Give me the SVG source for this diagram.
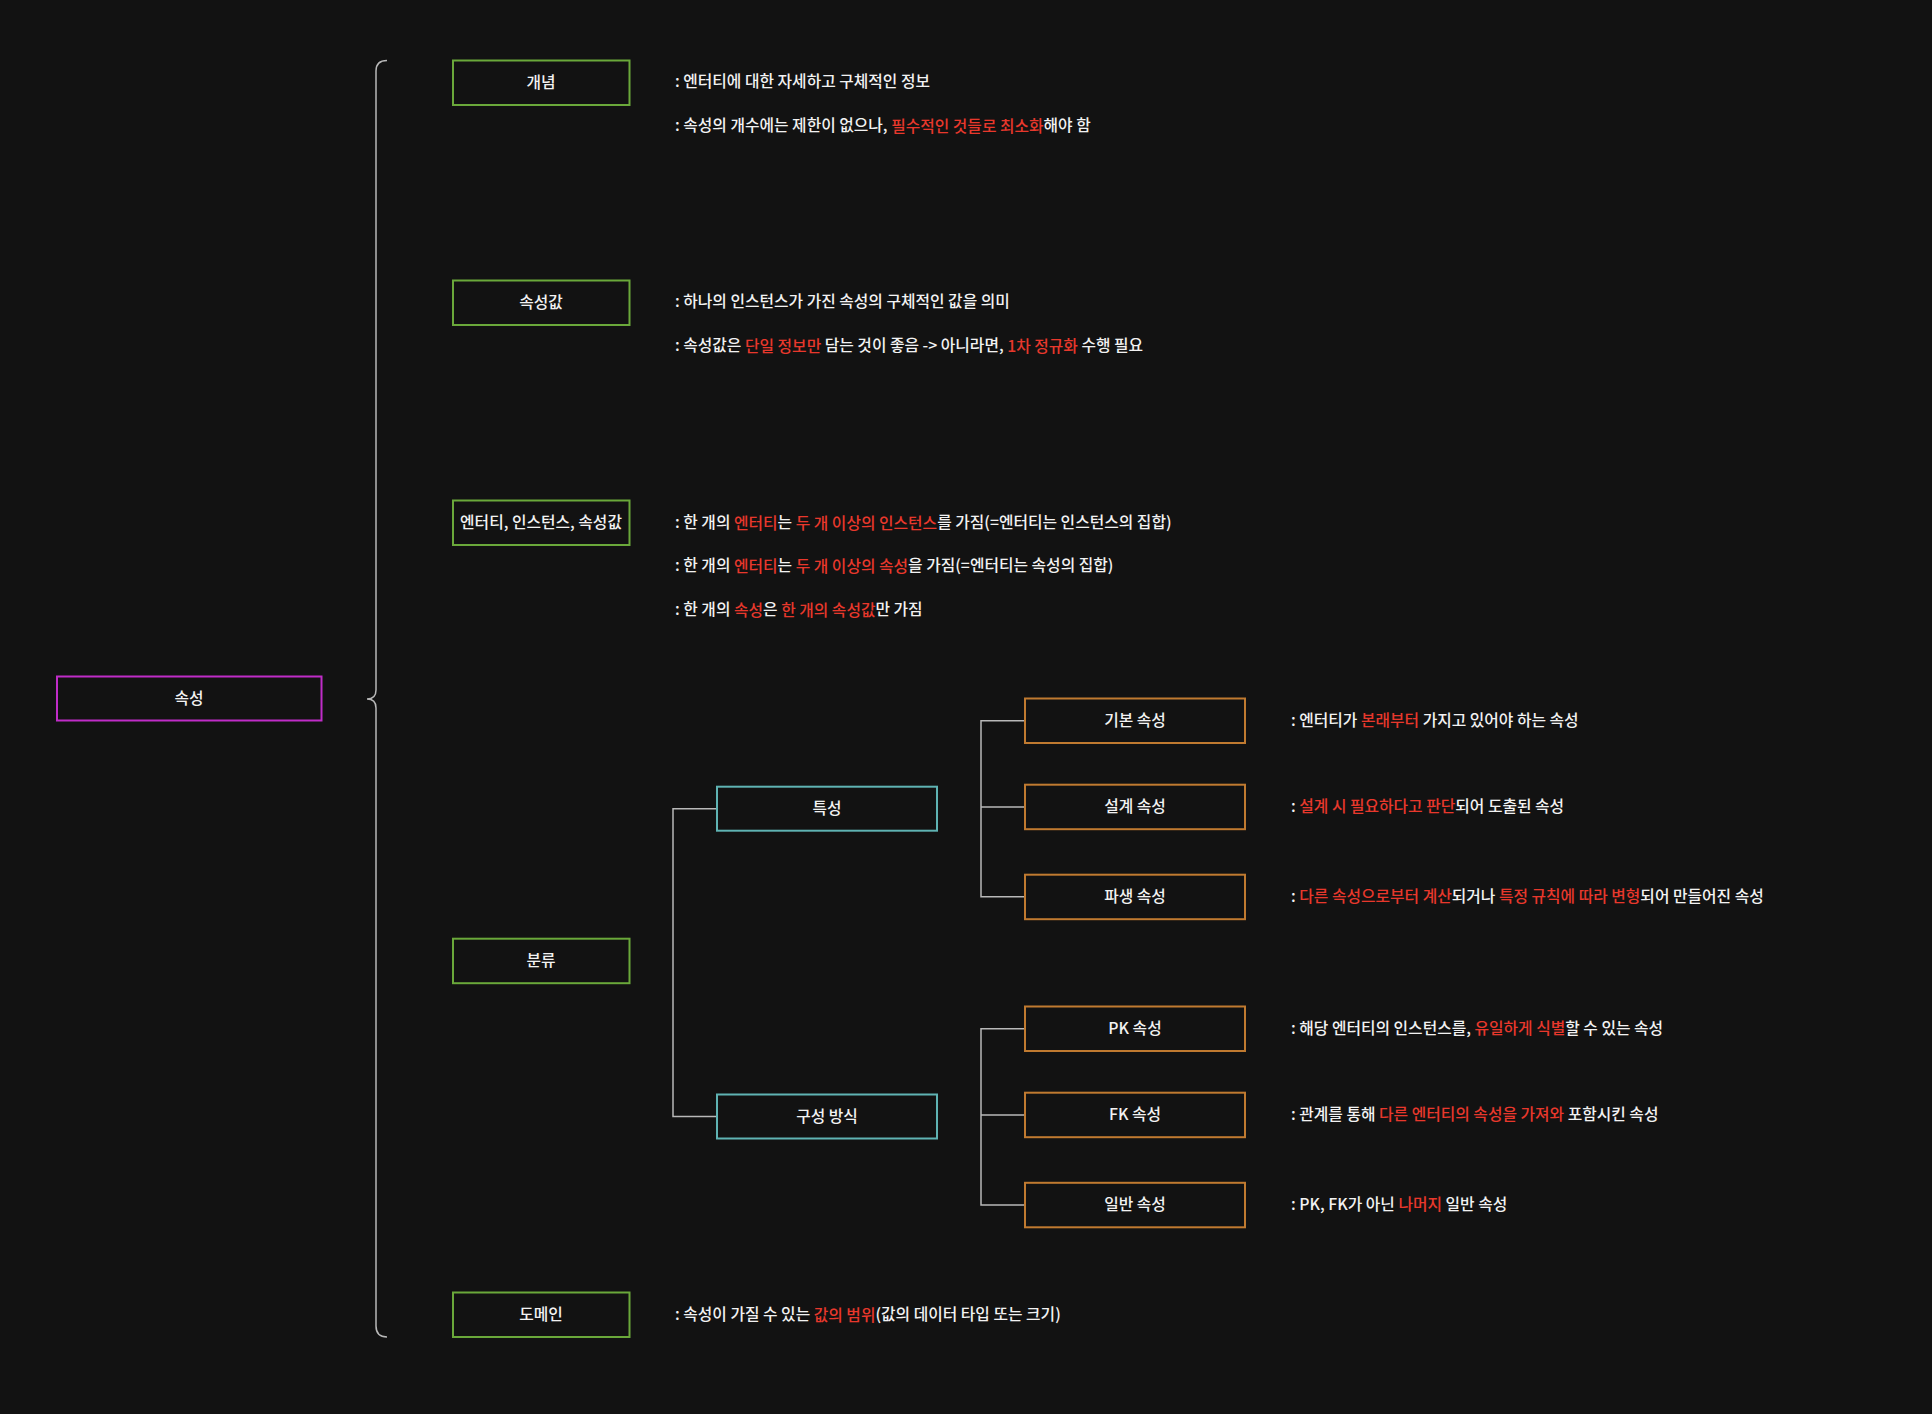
<svg xmlns="http://www.w3.org/2000/svg" width="1932" height="1414" viewBox="0 0 1932 1414">
<style>
text{font-family:"Noto Sans CJK KR","Noto Sans",sans-serif;font-size:15.8px;font-weight:500;fill:#f2f2f2;dominant-baseline:central}
.lbl{text-anchor:middle}
.r{fill:#e8382c}
.box{fill:#121212;stroke-width:2}
.g{stroke:#6aa83a}
.m{stroke:#c02cc8}
.c{stroke:#5fb3b3}
.o{stroke:#c07a30}
.ln{fill:none;stroke:#b8b8b8;stroke-width:1.5}
</style>
<rect x="0" y="0" width="1932" height="1414" fill="#121212"/>
<g id="connectors">
<path class="ln" d="M387 60.5 Q376 60.5 376 71 L376 690 Q376 699 367 699 Q376 699 376 708 L376 1326 Q376 1337 387 1337"/>
<path class="ln" d="M717 808.7 H673 V1116.5 H717"/>
<path class="ln" d="M1025 720.7 H981 V896.8 H1025 M981 807 H1025"/>
<path class="ln" d="M1025 1028.7 H981 V1205 H1025 M981 1115 H1025"/>
</g>
<g id="n-attr"><rect class="box m" x="57" y="676.5" width="264.5" height="44"/><text class="lbl" x="189" y="697">속성</text></g>
<g id="n-concept"><rect class="box g" x="453" y="60.5" width="176.5" height="44.5"/><text class="lbl" x="541" y="81">개념</text></g>
<g id="n-value"><rect class="box g" x="453" y="280.5" width="176.5" height="44.5"/><text class="lbl" x="541" y="301">속성값</text></g>
<g id="n-eis"><rect class="box g" x="453" y="500.5" width="176.5" height="44.5"/><text class="lbl" x="541" y="521">엔터티, 인스턴스, 속성값</text></g>
<g id="n-class"><rect class="box g" x="453" y="938.7" width="176.5" height="44.5"/><text class="lbl" x="541" y="959.3">분류</text></g>
<g id="n-domain"><rect class="box g" x="453" y="1292.5" width="176.5" height="44.5"/><text class="lbl" x="541" y="1313.2">도메인</text></g>
<g id="n-trait"><rect class="box c" x="717" y="786.7" width="220" height="44"/><text class="lbl" x="827" y="807.2">특성</text></g>
<g id="n-comp"><rect class="box c" x="717" y="1094.5" width="220" height="44"/><text class="lbl" x="827" y="1115">구성 방식</text></g>
<g id="n-basic"><rect class="box o" x="1025" y="698.5" width="220" height="44.5"/><text class="lbl" x="1135" y="719.2">기본 속성</text></g>
<g id="n-design"><rect class="box o" x="1025" y="784.7" width="220" height="44.5"/><text class="lbl" x="1135" y="805.5">설계 속성</text></g>
<g id="n-derived"><rect class="box o" x="1025" y="874.7" width="220" height="44.5"/><text class="lbl" x="1135" y="895.3">파생 속성</text></g>
<g id="n-pk"><rect class="box o" x="1025" y="1006.5" width="220" height="44.5"/><text class="lbl" x="1135" y="1027.2">PK 속성</text></g>
<g id="n-fk"><rect class="box o" x="1025" y="1092.7" width="220" height="44.5"/><text class="lbl" x="1135" y="1113.5">FK 속성</text></g>
<g id="n-general"><rect class="box o" x="1025" y="1182.8" width="220" height="44.5"/><text class="lbl" x="1135" y="1203.5">일반 속성</text></g>
<g id="descriptions" xml:space="preserve">
<text x="675" y="80.5">: 엔터티에 대한 자세하고 구체적인 정보</text>
<text x="675" y="124.5">: 속성의 개수에는 제한이 없으나, <tspan class="r">필수적인 것들로 최소화</tspan>해야 함</text>
<text x="675" y="300.5">: 하나의 인스턴스가 가진 속성의 구체적인 값을 의미</text>
<text x="675" y="344.5">: 속성값은 <tspan class="r">단일 정보만</tspan> 담는 것이 좋음 -&gt; 아니라면, <tspan class="r">1차 정규화</tspan> 수행 필요</text>
<text x="675" y="521.5">: 한 개의 <tspan class="r">엔터티</tspan>는 <tspan class="r">두 개 이상의 인스턴스</tspan>를 가짐(=엔터티는 인스턴스의 집합)</text>
<text x="675" y="564.5">: 한 개의 <tspan class="r">엔터티</tspan>는 <tspan class="r">두 개 이상의 속성</tspan>을 가짐(=엔터티는 속성의 집합)</text>
<text x="675" y="608.5">: 한 개의 <tspan class="r">속성</tspan>은 <tspan class="r">한 개의 속성값</tspan>만 가짐</text>
<text x="1291" y="719.2">: 엔터티가 <tspan class="r">본래부터</tspan> 가지고 있어야 하는 속성</text>
<text x="1291" y="805">: <tspan class="r">설계 시 필요하다고 판단</tspan>되어 도출된 속성</text>
<text x="1291" y="895">: <tspan class="r">다른 속성으로부터 계산</tspan>되거나 <tspan class="r">특정 규칙에 따라 변형</tspan>되어 만들어진 속성</text>
<text x="1291" y="1027">: 해당 엔터티의 인스턴스를, <tspan class="r">유일하게 식별</tspan>할 수 있는 속성</text>
<text x="1291" y="1113">: 관계를 통해 <tspan class="r">다른 엔터티의 속성을 가져와</tspan> 포함시킨 속성</text>
<text x="1291" y="1203">: PK, FK가 아닌 <tspan class="r">나머지</tspan> 일반 속성</text>
<text x="675" y="1313.5">: 속성이 가질 수 있는 <tspan class="r">값의 범위</tspan>(값의 데이터 타입 또는 크기)</text>
</g>
</svg>
